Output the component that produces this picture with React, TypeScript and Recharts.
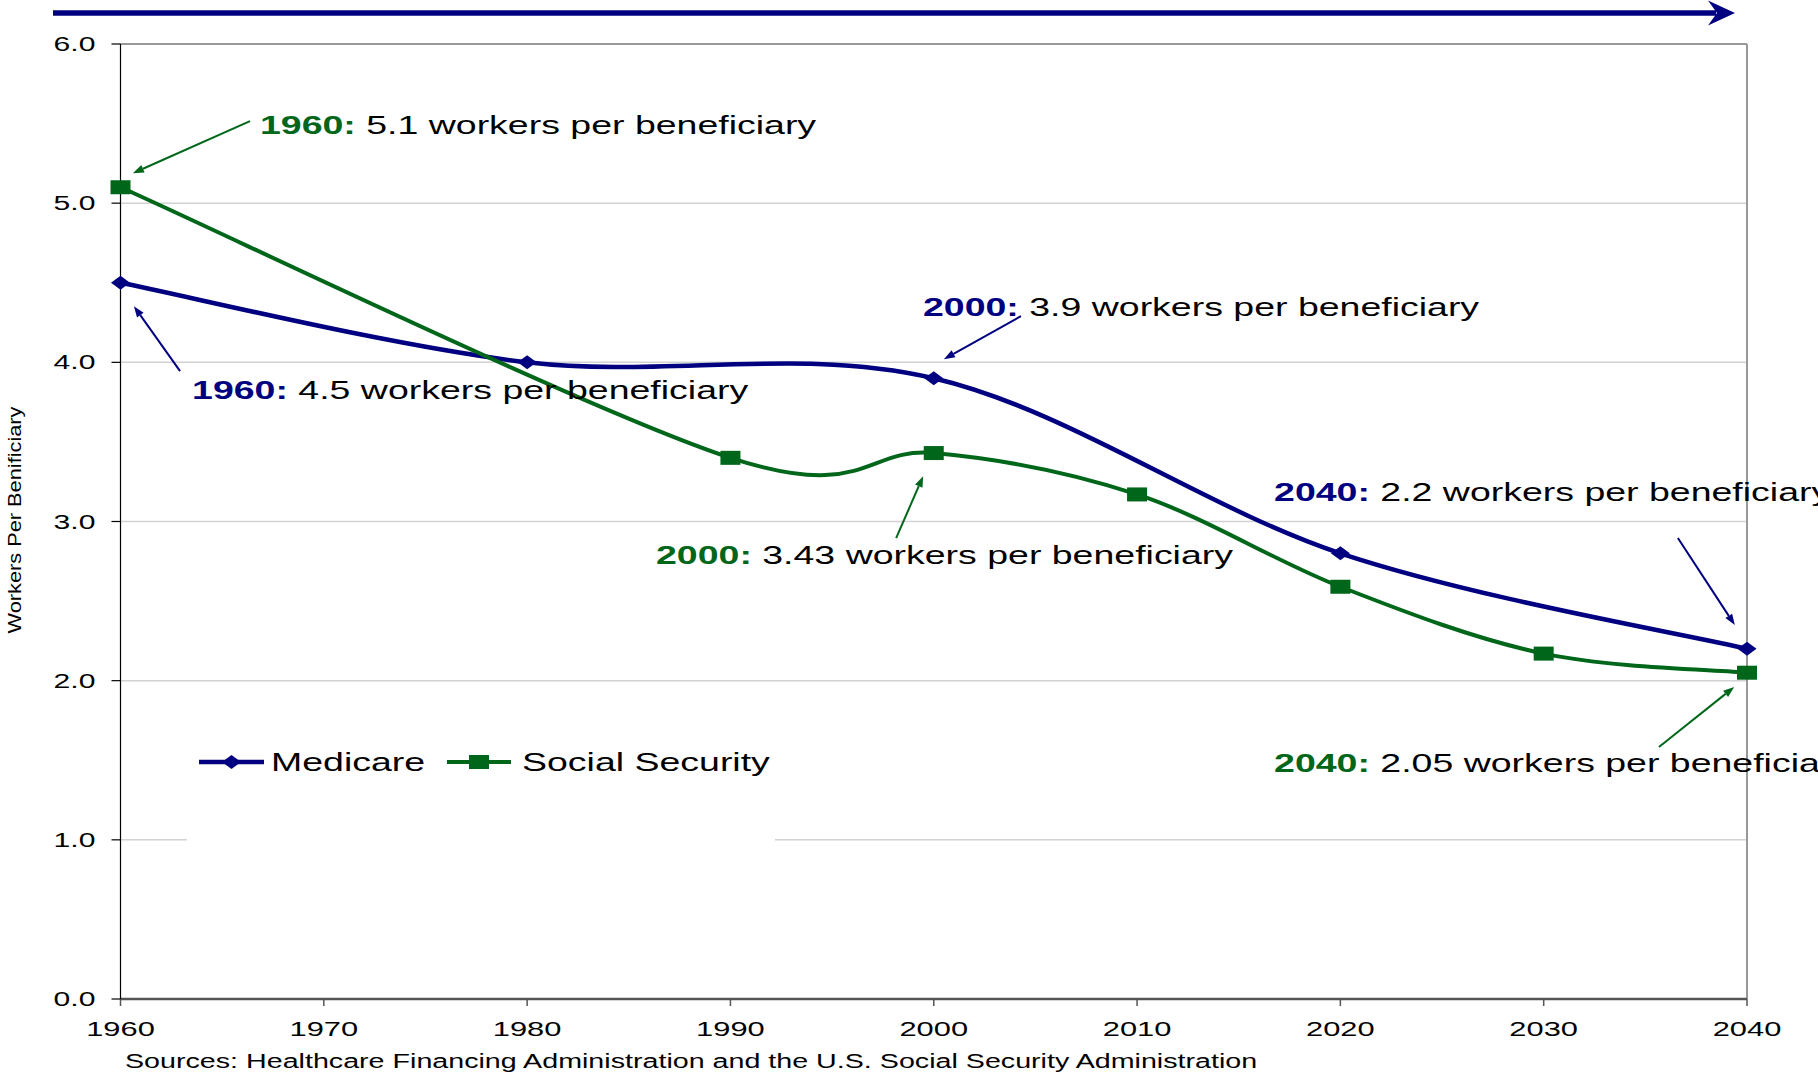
import React from 'react';
import {
  LineChart,
  Line,
  XAxis,
  YAxis,
  CartesianGrid,
  ReferenceLine,
  ReferenceDot,
  Legend,
} from 'recharts';

// ---------- data ----------
const medicareYears = [1960, 1980, 2000, 2020, 2040];
const medicareValues = [4.5, 4.0, 3.9, 2.8, 2.2];
const socialSecurityYears = [1960, 1990, 2000, 2010, 2020, 2030, 2040];
const socialSecurityValues = [5.1, 3.4, 3.43, 3.17, 2.59, 2.17, 2.05];
const xTicks = [1960, 1970, 1980, 1990, 2000, 2010, 2020, 2030, 2040];
const yTicks = [0, 1, 2, 3, 4, 5, 6];
const seriesNames = ['Medicare', 'Social Security'];
const yAxisLabel = 'Workers Per Benificiary';
const sourceNote =
  'Sources: Healthcare Financing Administration and the U.S. Social Security Administration';
const annotationYears = ['1960:', '1960:', '2000:', '2000:', '2040:', '2040:'];
const annotationTexts = [
  ' 5.1 workers per beneficiary',
  ' 4.5 workers per beneficiary',
  ' 3.9 workers per beneficiary',
  ' 3.43 workers per beneficiary',
  ' 2.2 workers per beneficiary',
  ' 2.05 workers per beneficiary',
];
const annotationSeries = [1, 0, 0, 1, 0, 1];

// ---------- layout / style (not data) ----------
const W = 1818;
const H = 1074;
const SX = 1.47; // horizontal stretch of all text in the reference
const FONT = '"Liberation Sans", Arial, Helvetica, sans-serif';
const BLUE = '#000080';
const GREEN = '#00661a';
const COLORS = [BLUE, GREEN];

// annotation text anchor (left, middle) and arrow from/to, in chart (year, value) coords
const annotationLayout = [
  { tx: 1966.86, ty: 5.49, ax1: 1966.37, ay1: 5.515, ax2: 1960.61, ay2: 5.188 },
  { tx: 1963.52, ty: 3.825, ax1: 1962.93, ay1: 3.945, ax2: 1960.66, ay2: 4.353 },
  { tx: 1999.47, ty: 4.347, ax1: 2004.29, ay1: 4.29, ax2: 2000.5, ay2: 4.02 },
  { tx: 1986.34, ty: 2.789, ax1: 1998.15, ay1: 2.896, ax2: 1999.48, ay2: 3.285 },
  { tx: 2016.74, ty: 3.185, ax1: 2036.6, ay1: 2.896, ax2: 2039.4, ay2: 2.349 },
  { tx: 2016.74, ty: 1.482, ax1: 2035.67, ay1: 1.583, ax2: 2039.37, ay2: 1.96 },
];

const medicareData = medicareYears.map((year, i) => ({ year, value: medicareValues[i] }));
const socialSecurityData = socialSecurityYears.map((year, i) => ({
  year,
  value: socialSecurityValues[i],
}));

// Excel-like smoothed line (Catmull-Rom as cubic Bezier, in pixel space)
const excelSmooth: any = (context: any) => {
  let pts: [number, number][] = [];
  return {
    areaStart() {},
    areaEnd() {},
    lineStart() {
      pts = [];
    },
    point(x: number, y: number) {
      pts.push([+x, +y]);
    },
    lineEnd() {
      const n = pts.length;
      if (!n) return;
      context.moveTo(pts[0][0], pts[0][1]);
      const k = 1 / 6;
      for (let i = 0; i < n - 1; i++) {
        const p0 = pts[Math.max(0, i - 1)];
        const p1 = pts[i];
        const p2 = pts[i + 1];
        const p3 = pts[Math.min(n - 1, i + 2)];
        context.bezierCurveTo(
          p1[0] + k * (p2[0] - p0[0]),
          p1[1] + k * (p2[1] - p0[1]),
          p2[0] - k * (p3[0] - p1[0]),
          p2[1] - k * (p3[1] - p1[1]),
          p2[0],
          p2[1]
        );
      }
    },
  };
};

const DiamondDot = (p: any) => {
  const { cx, cy, index } = p;
  if (cx == null || cy == null) return <g key={`dd-${index}`} />;
  return (
    <path
      key={`dd-${index}`}
      d={`M${cx - 9.5},${cy} L${cx},${cy - 7} L${cx + 9.5},${cy} L${cx},${cy + 7} Z`}
      fill={BLUE}
    />
  );
};

const SquareDot = (p: any) => {
  const { cx, cy, index } = p;
  if (cx == null || cy == null) return <g key={`sd-${index}`} />;
  return <rect key={`sd-${index}`} x={cx - 10} y={cy - 7} width={20} height={14} fill={GREEN} />;
};

const XTick = ({ x, y, payload }: any) => (
  <text
    transform={`translate(${x},${y + 21}) scale(${SX},1)`}
    textAnchor="middle"
    dominantBaseline="central"
    fontSize={21}
    fontFamily={FONT}
    fill="#000"
  >
    {payload.value}
  </text>
);

const YTick = ({ x, y, payload }: any) => (
  <text
    transform={`translate(${x},${y}) scale(${SX},1)`}
    textAnchor="end"
    dominantBaseline="central"
    fontSize={20.5}
    fontFamily={FONT}
    fill="#000"
  >
    {Number(payload.value).toFixed(1)}
  </text>
);

const AnnotationText = ({ cx, cy, i }: any) => (
  <text
    transform={`translate(${cx},${cy}) scale(${SX},1)`}
    dominantBaseline="central"
    fontSize={25.5}
    fontFamily={FONT}
    fill="#000"
  >
    <tspan fontWeight="bold" fill={COLORS[annotationSeries[i]]}>
      {annotationYears[i]}
    </tspan>
    <tspan>{annotationTexts[i]}</tspan>
  </text>
);

const Arrow = ({ x1, y1, x2, y2, color }: any) => {
  const ang = Math.atan2(y2 - y1, x2 - x1);
  const L = 11;
  const Wd = 4;
  const bx = x2 - L * Math.cos(ang);
  const by = y2 - L * Math.sin(ang);
  const px = -Math.sin(ang) * Wd;
  const py = Math.cos(ang) * Wd;
  return (
    <g>
      <line x1={x1} y1={y1} x2={bx} y2={by} stroke={color} strokeWidth={2} />
      <polygon
        points={`${x2},${y2} ${bx + px},${by + py} ${bx - px},${by - py}`}
        fill={color}
      />
    </g>
  );
};

const LegendContent = () => (
  <svg width={588} height={141} style={{ display: 'block' }}>
    <line x1={12} y1={62} x2={77} y2={62} stroke={BLUE} strokeWidth={4.5} />
    <path d={`M${44.5 - 9.5},62 L44.5,${62 - 7} L${44.5 + 9.5},62 L44.5,${62 + 7} Z`} fill={BLUE} />
    <text
      transform={`translate(84,62) scale(${SX},1)`}
      dominantBaseline="central"
      fontSize={25.5}
      fontFamily={FONT}
      fill="#000"
    >
      {seriesNames[0]}
    </text>
    <line x1={260} y1={62} x2={324} y2={62} stroke={GREEN} strokeWidth={4} />
    <rect x={292 - 10} y={62 - 7} width={20} height={14} fill={GREEN} />
    <text
      transform={`translate(335,62) scale(${SX},1)`}
      dominantBaseline="central"
      fontSize={25.5}
      fontFamily={FONT}
      fill="#000"
    >
      {seriesNames[1]}
    </text>
  </svg>
);

export default function App() {
  return (
    <div style={{ position: 'absolute', left: 0, top: 0, width: W, height: H, background: '#fff' }}>
      <LineChart
        width={W}
        height={H}
        margin={{ top: 44, right: 71, bottom: 30, left: 20 }}
      >
        <CartesianGrid horizontal vertical={false} stroke="#d2d2d2" strokeWidth={1.5} />
        <XAxis
          type="number"
          dataKey="year"
          domain={[1960, 2040]}
          ticks={xTicks}
          interval={0}
          height={45}
          axisLine={{ stroke: '#555', strokeWidth: 2.5 }}
          tickLine={{ stroke: '#555', strokeWidth: 1.5 }}
          tickSize={7}
          tick={<XTick />}
        />
        <YAxis
          type="number"
          domain={[0, 6]}
          ticks={yTicks}
          interval={0}
          width={100.5}
          axisLine={{ stroke: '#000', strokeWidth: 1.2 }}
          tickLine={{ stroke: '#000', strokeWidth: 1.2 }}
          tickSize={9}
          tickMargin={16}
          tick={<YTick />}
          label={{
            content: () => (
              <text
                transform={`translate(14,520) rotate(-90)`}
                textAnchor="middle"
                dominantBaseline="central"
                fontSize={19}
                fontFamily={FONT}
                textLength={227}
                lengthAdjust="spacingAndGlyphs"
                fill="#000"
              >
                {yAxisLabel}
              </text>
            ),
          }}
        />
        <ReferenceLine y={6} stroke="#999" strokeWidth={2} ifOverflow="visible" />
        <ReferenceLine x={2040} stroke="#999" strokeWidth={2} ifOverflow="visible" />
        <Legend
          layout="vertical"
          verticalAlign="middle"
          align="center"
          content={<LegendContent />}
          wrapperStyle={{
            position: 'absolute',
            left: 187,
            top: 700,
            width: 588,
            height: 141,
            background: '#fff',
          }}
        />
        <Line
          name={seriesNames[0]}
          data={medicareData}
          dataKey="value"
          type={excelSmooth}
          stroke={BLUE}
          strokeWidth={4.5}
          dot={DiamondDot}
          activeDot={false}
          isAnimationActive={false}
        />
        <Line
          name={seriesNames[1]}
          data={socialSecurityData}
          dataKey="value"
          type={excelSmooth}
          stroke={GREEN}
          strokeWidth={4}
          dot={SquareDot}
          activeDot={false}
          isAnimationActive={false}
        />
        {annotationLayout.map((a, i) => (
          <ReferenceLine
            key={`arr-${i}`}
            segment={[
              { x: a.ax1, y: a.ay1 },
              { x: a.ax2, y: a.ay2 },
            ]}
            ifOverflow="visible"
            shape={(p: any) => (
              <Arrow x1={p.x1} y1={p.y1} x2={p.x2} y2={p.y2} color={COLORS[annotationSeries[i]]} />
            )}
          />
        ))}
        {annotationLayout.map((a, i) => (
          <ReferenceDot
            key={`ann-${i}`}
            x={a.tx}
            y={a.ty}
            r={0}
            ifOverflow="visible"
            shape={(p: any) => <AnnotationText cx={p.cx} cy={p.cy} i={i} />}
          />
        ))}
      </LineChart>
      <svg
        width={W}
        height={H}
        style={{ position: 'absolute', left: 0, top: 0, pointerEvents: 'none' }}
      >
        <line x1={53} y1={13} x2={1716} y2={13} stroke={BLUE} strokeWidth={5.5} />
        <polygon points="1708,0.5 1735,13 1708,25.5 1717,13" fill={BLUE} />
        <text
          transform={`translate(125,1061) scale(${SX},1)`}
          dominantBaseline="central"
          fontSize={19.5}
          fontFamily={FONT}
          fill="#000"
        >
          {sourceNote}
        </text>
      </svg>
    </div>
  );
}
